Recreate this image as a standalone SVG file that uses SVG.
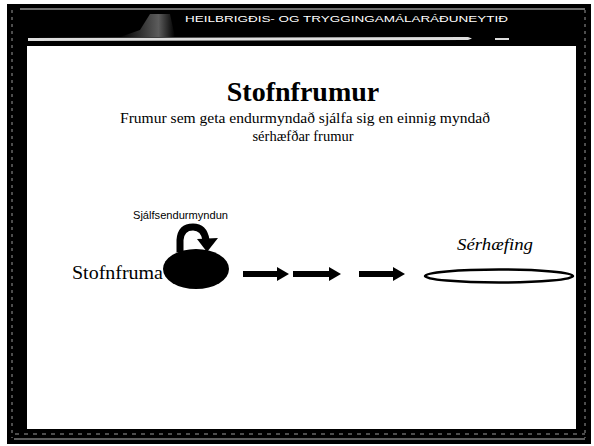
<svg xmlns="http://www.w3.org/2000/svg" width="594" height="446" viewBox="0 0 594 446">
<defs>
<linearGradient id="glow" x1="0" y1="0" x2="1" y2="0">
<stop offset="0" stop-color="#000"/>
<stop offset="0.7" stop-color="#999"/>
<stop offset="1" stop-color="#000"/>
</linearGradient>
<marker id="ah" viewBox="0 0 12 14" refX="0" refY="7" markerWidth="12" markerHeight="14" markerUnits="userSpaceOnUse" orient="auto">
<path d="M0,0 L12,7 L0,14 Z" fill="#000"/>
</marker>
</defs>
<style>
.serif{font-family:"Liberation Serif","Times New Roman",serif;fill:#000}
.sans{font-family:"Liberation Sans",Arial,sans-serif;fill:#000}
.arrow{stroke:#000;stroke-width:6;fill:none}
</style>
<rect x="0" y="0" width="594" height="446" fill="#fff"/>
<g id="frame">
<rect x="7" y="4" width="584" height="440" fill="#000"/>
<line x1="20" y1="9" x2="585" y2="9" stroke="#ddd" stroke-width="1"/>
<path d="M120,37 L140,30 L150,14 L170,14 L175,37 Z" fill="url(#glow)" opacity="0.6"/>
<path d="M28,38 L468,37 L472,38.5 L468,40 L28,41 Z" fill="#ddd"/>
<rect x="495" y="38" width="14" height="2" fill="#ddd"/>
<line x1="12" y1="10" x2="12" y2="438" stroke="#999" stroke-width="1" stroke-dasharray="3 4"/>
<line x1="585" y1="10" x2="585" y2="438" stroke="#999" stroke-width="1" stroke-dasharray="3 4"/>
<line x1="15" y1="434" x2="585" y2="434" stroke="#999" stroke-width="1" stroke-dasharray="4 5"/>
<line x1="14" y1="439" x2="585" y2="439" stroke="#bbb" stroke-width="1"/>
<text x="185" y="22" font-family="Liberation Sans,Arial,sans-serif" font-size="9.5" fill="#fff" textLength="323" lengthAdjust="spacingAndGlyphs">HEILBRIGÐIS- OG TRYGGINGAMÁLARÁÐUNEYTIÐ</text>
<rect x="27" y="46" width="549" height="383" fill="#fff"/>
</g>
<g id="title">
<text class="serif" x="303" y="101" font-size="28" font-weight="bold" text-anchor="middle">Stofnfrumur</text>
<text class="serif" x="305" y="123" font-size="14.5" text-anchor="middle" textLength="370" lengthAdjust="spacingAndGlyphs">Frumur sem geta endurmyndað sjálfa sig en einnig myndað</text>
<text class="serif" x="303" y="141" font-size="14.5" text-anchor="middle">sérhæfðar frumur</text>
</g>
<g id="stofnfruma">
<ellipse cx="196" cy="269" rx="33" ry="20" fill="#000"/>
<text class="serif" x="72" y="279" font-size="19" textLength="91" lengthAdjust="spacingAndGlyphs">Stofnfruma</text>
</g>
<g id="self-renewal">
<path d="M180,252 L180,240 Q181,227 193,227 Q204,227 206,240" stroke="#000" stroke-width="7" fill="none"/>
<path d="M197,239 L218,238 L207,252 Z" fill="#000"/>
<text class="sans" x="133" y="219" font-size="10.5" textLength="95" lengthAdjust="spacingAndGlyphs">Sjálfsendurmyndun</text>
</g>
<g id="serhaefing">
<ellipse cx="499" cy="276" rx="74" ry="6.5" fill="#fff" stroke="#000" stroke-width="2.5"/>
<text class="serif" x="457" y="250" font-size="16" font-style="italic" textLength="76" lengthAdjust="spacingAndGlyphs">Sérhæfing</text>
</g>
<g id="connectors">
<line class="arrow" x1="243" y1="274" x2="277" y2="274" marker-end="url(#ah)"/>
<line class="arrow" x1="293" y1="274" x2="329" y2="274" marker-end="url(#ah)"/>
<line class="arrow" x1="359" y1="274" x2="393" y2="274" marker-end="url(#ah)"/>
</g>
</svg>
